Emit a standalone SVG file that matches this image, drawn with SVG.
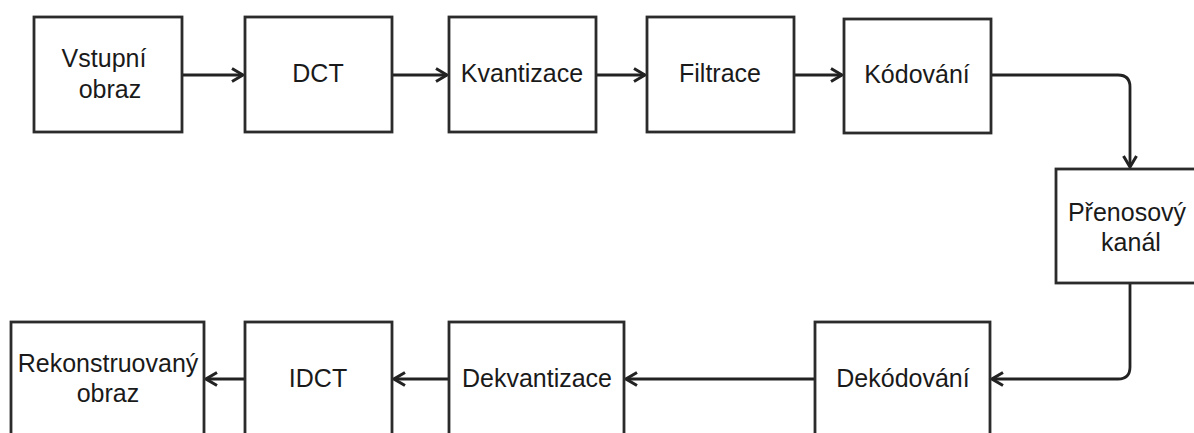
<svg xmlns="http://www.w3.org/2000/svg" width="1194" height="433" viewBox="0 0 1194 433">
  <style>
    .box { fill: #ffffff; stroke: #2b2b2b; stroke-width: 2.8; }
    .lbl { font-family: "Liberation Sans", Arial, sans-serif; font-size: 25px; fill: #1a1a1a; text-anchor: middle; }
    .edge { fill: none; stroke: #222222; stroke-width: 2.8; marker-end: url(#open); }
  </style>
  <defs>
    <!-- open chevron arrowhead shared by every connector -->
    <marker id="open" viewBox="0 0 14 16" refX="12.5" refY="8" markerWidth="14" markerHeight="16" markerUnits="userSpaceOnUse" orient="auto">
      <path d="M1.5,1.5 L12.5,8 L1.5,14.5" fill="none" stroke="#222222" stroke-width="3" stroke-linejoin="miter"/>
    </marker>
  </defs>
  <rect width="1194" height="433" fill="#ffffff"/>

  <!-- connectors -->
  <g id="connectors">
    <path class="edge" d="M182,75 H243"/>
    <path class="edge" d="M392,75 H447"/>
    <path class="edge" d="M596,75 H645"/>
    <path class="edge" d="M794,75 H842"/>
    <path class="edge" d="M991,75 H1118 Q1130,75 1130,87 V167"/>
    <path class="edge" d="M1130,283 V367 Q1130,379 1118,379 H992"/>
    <path class="edge" d="M815,379 H626"/>
    <path class="edge" d="M449,379 H394"/>
    <path class="edge" d="M245,379 H206"/>
  </g>

  <!-- top row: encoder -->
  <g id="vstupni-obraz">
    <rect class="box" x="34" y="17" width="148" height="115"/>
    <text class="lbl" x="104" y="67">Vstupní</text>
    <text class="lbl" x="110" y="98">obraz</text>
  </g>
  <g id="dct">
    <rect class="box" x="245" y="17" width="147" height="115"/>
    <text class="lbl" x="318" y="82">DCT</text>
  </g>
  <g id="kvantizace">
    <rect class="box" x="449" y="17" width="147" height="115"/>
    <text class="lbl" x="522" y="82">Kvantizace</text>
  </g>
  <g id="filtrace">
    <rect class="box" x="647" y="17" width="147" height="115"/>
    <text class="lbl" x="720" y="82">Filtrace</text>
  </g>
  <g id="kodovani">
    <rect class="box" x="844" y="19" width="147" height="114"/>
    <text class="lbl" x="917" y="83">Kódování</text>
  </g>

  <!-- channel -->
  <g id="prenosovy-kanal">
    <rect class="box" x="1056" y="169" width="148" height="114"/>
    <text class="lbl" x="1127" y="221">Přenosový</text>
    <text class="lbl" x="1131" y="251">kanál</text>
  </g>

  <!-- bottom row: decoder -->
  <g id="dekodovani">
    <rect class="box" x="815" y="322" width="175" height="130"/>
    <text class="lbl" x="903" y="387">Dekódování</text>
  </g>
  <g id="dekvantizace">
    <rect class="box" x="449" y="322" width="175" height="130"/>
    <text class="lbl" x="537" y="387">Dekvantizace</text>
  </g>
  <g id="idct">
    <rect class="box" x="245" y="322" width="147" height="130"/>
    <text class="lbl" x="318" y="387">IDCT</text>
  </g>
  <g id="rekonstruovany-obraz">
    <rect class="box" x="11" y="322" width="193" height="130"/>
    <text class="lbl" x="108" y="372">Rekonstruovaný</text>
    <text class="lbl" x="108" y="402">obraz</text>
  </g>
</svg>
